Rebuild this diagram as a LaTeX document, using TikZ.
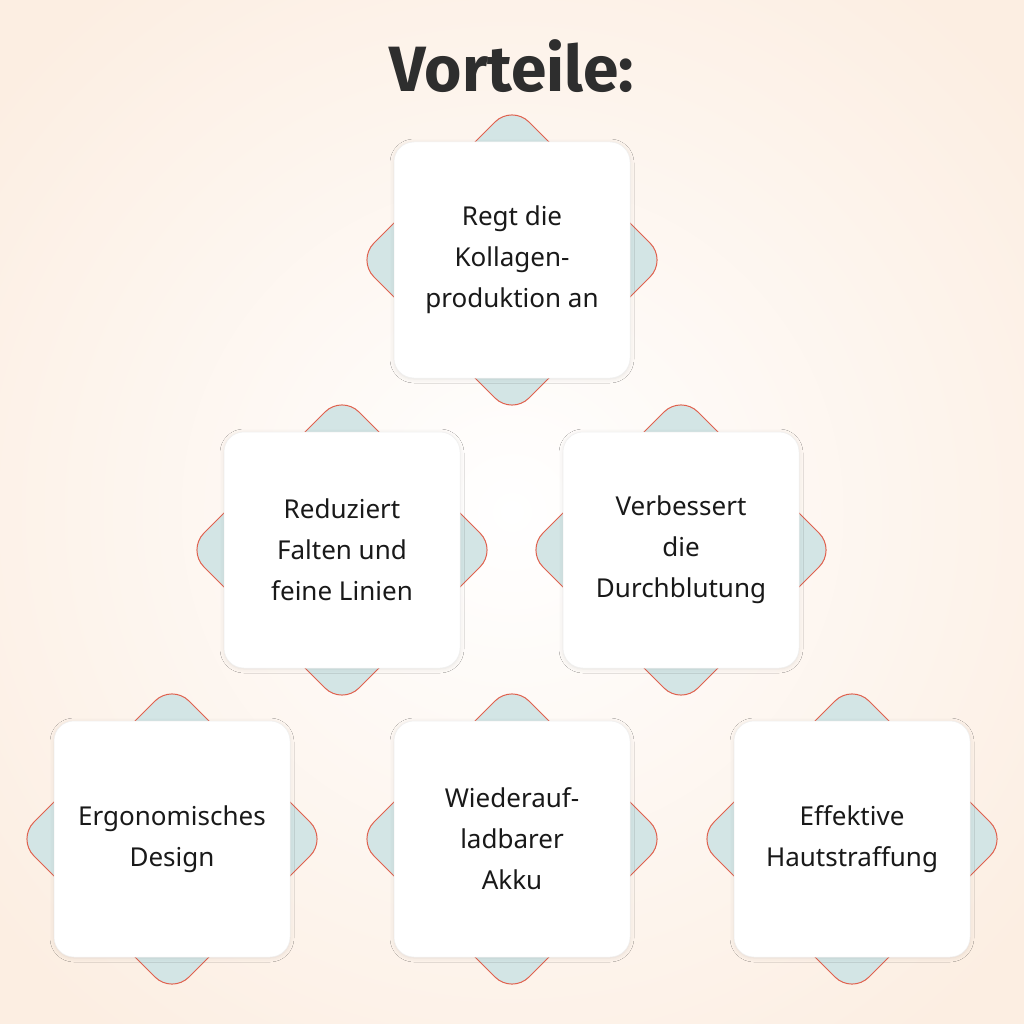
\documentclass[tikz,border=0pt]{standalone}
\usepackage{fontspec}
\setmainfont{Noto Sans}
\newfontfamily\tf{Fira Sans Bold}
\usetikzlibrary{shadows.blur}
\definecolor{bgout}{HTML}{FCEEE2}
\definecolor{dia}{HTML}{D3E5E5}
\definecolor{diaedge}{HTML}{E0614E}
\begin{document}
\begin{tikzpicture}[x=1pt,y=-1pt,
  card/.style={fill=white,rounded corners=20pt,minimum width=236pt,minimum height=236pt,draw=black!6,line width=0.5pt,
    blur shadow={shadow xshift=0pt,shadow yshift=-1pt,shadow blur radius=4pt,shadow opacity=10},
    align=center,font=\fontsize{26}{41}\selectfont,text=black!90},
  dia/.style={fill=dia,draw=diaedge,line width=1pt,rounded corners=24pt}]
\useasboundingbox (0,0) rectangle (1024,1024);
\clip (0,0) rectangle (1024,1024);
\shade[inner color=white,outer color=bgout] (-150,-150) rectangle (1174,1174);
\node[font=\fontsize{64}{64}\selectfont\tf,text=black!82] (title) at (512,66) {Vorteile:};
\foreach \n/\x/\y/\t in {a/512/260/{Regt die\\Kollagen-\\produktion an},
  b/342/550/{Reduziert\\Falten und\\feine Linien},
  c/681/550/{Verbessert\\die\\Durchblutung},
  d/172/839/{Ergonomisches\\Design},
  e/512/839/{Wiederauf-\\ladbarer\\Akku},
  f/852/839/{Effektive\\Hautstraffung}}{
  \draw[dia] (\x,\y-155) -- (\x+155,\y) -- (\x,\y+155) -- (\x-155,\y) -- cycle;
  \node[card] (\n) at (\x,\y) {\t};
}
\end{tikzpicture}
\end{document}
